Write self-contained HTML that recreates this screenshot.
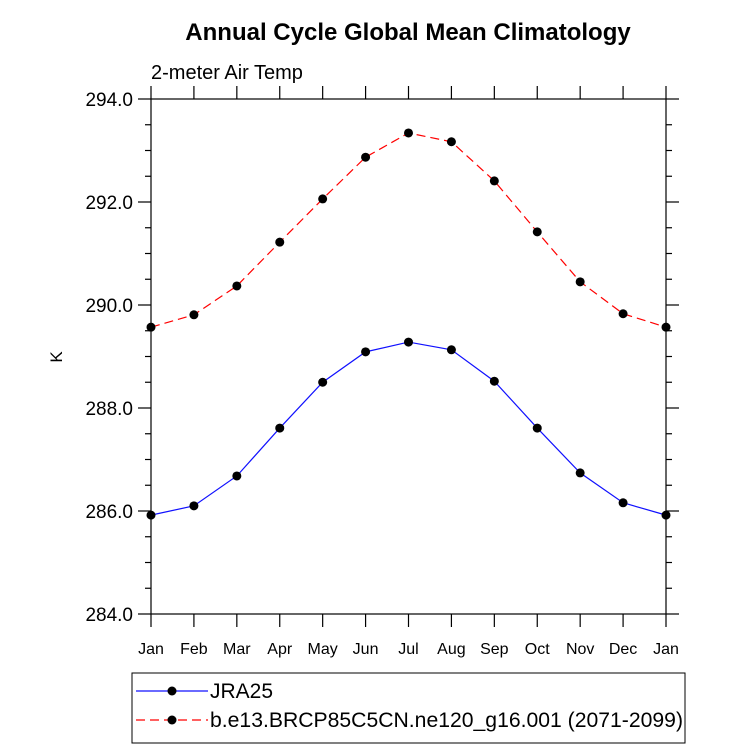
<!DOCTYPE html>
<html><head><meta charset="utf-8"><style>
body{margin:0;background:#fff}
svg text{font-family:"Liberation Sans",Arial,sans-serif;fill:#000}
</style></head><body>
<svg width="733" height="748" viewBox="0 0 733 748" id="c">
<text x="408" y="40" font-size="24" font-weight="bold" text-anchor="middle">Annual Cycle Global Mean Climatology</text>
<text x="151" y="79" font-size="20">2-meter Air Temp</text>
<text x="0" y="0" font-size="17" text-anchor="middle" transform="translate(62,357) rotate(-90)">K</text>
<rect x="151" y="99" width="515" height="515" fill="none" stroke="#000" stroke-width="1.2"/>
<g id="axes"></g>
<g id="series"></g>
<g>
<rect x="132" y="673" width="553" height="70" fill="none" stroke="#000" stroke-width="1"/>
<line x1="136" y1="691" x2="208" y2="691" stroke="#1010ff" stroke-width="1.2"/>
<circle cx="172" cy="691" r="4.5" fill="#000"/>
<text x="210" y="698" font-size="21">JRA25</text>
<line x1="136" y1="720" x2="208" y2="720" stroke="#ff0000" stroke-width="1.2" stroke-dasharray="9,5"/>
<circle cx="172" cy="720" r="4.5" fill="#000"/>
<text x="210" y="727" font-size="21" textLength="473" lengthAdjust="spacingAndGlyphs">b.e13.BRCP85C5CN.ne120_g16.001 (2071-2099)</text>
</g>
</svg>
<script>
const months=["Jan","Feb","Mar","Apr","May","Jun","Jul","Aug","Sep","Oct","Nov","Dec","Jan"];
const jra25=[285.92,286.10,286.68,287.61,288.50,289.09,289.28,289.13,288.52,287.61,286.74,286.16,285.92];
const model=[289.57,289.81,290.37,291.22,292.06,292.87,293.34,293.17,292.41,291.42,290.45,289.83,289.57];
const yTicks=[284,286,288,290,292,294];
const yTickLabels=["284.0","286.0","288.0","290.0","292.0","294.0"];
const L=151,R=666,T=99,B=614,ymin=284,ymax=294;
const NS="http://www.w3.org/2000/svg";
function xs(i){return L+(R-L)*i/(months.length-1);}
function ys(v){return B-(v-ymin)/(ymax-ymin)*(B-T);}
function mk(tag,at,parent){const e=document.createElementNS(NS,tag);for(const k in at)e.setAttribute(k,at[k]);parent.appendChild(e);return e;}
const ax=document.getElementById('axes'),sg=document.getElementById('series');
months.forEach((m,i)=>{const x=xs(i);
 let t=mk('line',{x1:x,x2:x,y1:B,y2:B+13,stroke:'#000','stroke-width':1.2},ax);
 
 
 t=mk('line',{x1:x,x2:x,y1:T,y2:T-13,stroke:'#000','stroke-width':1.2},ax);
 
 
 const tx=mk('text',{x:x,y:B+40,'font-size':16,'text-anchor':'middle'},ax);tx.textContent=m;
 
 
});
for(let v=ymin;v<=ymax+1e-9;v+=0.5){const y=ys(v);const major=Math.abs(v/2-Math.round(v/2))<1e-9;const len=major?13:6;
 let t=mk('line',{x1:L,x2:L-len,y1:y,y2:y,stroke:'#000','stroke-width':1.2},ax);
 
 
 t=mk('line',{x1:R,x2:R+len,y1:y,y2:y,stroke:'#000','stroke-width':1.2},ax);
 
 
}
yTicks.forEach((v,i)=>{const tx=mk('text',{x:L-18,y:ys(v)+7,'font-size':19,'text-anchor':'end'},ax);tx.textContent=yTickLabels[i];
 
 
});
function series(vals,color,dash,name){
 const pts=vals.map((v,i)=>xs(i)+','+ys(v)).join(' ');
 const pl=mk('polyline',{points:pts,fill:'none',stroke:color,'stroke-width':1.2},sg);
 if(dash)pl.setAttribute('stroke-dasharray',dash);
 
 
 vals.forEach((v,i)=>{const c=mk('circle',{cx:xs(i),cy:ys(v),r:4.5,fill:'#000'},sg);
  
  
 });
}
series(model,'#ff0000','9,5','model');
series(jra25,'#1010ff',null,'jra25');
</script>
</body></html>
